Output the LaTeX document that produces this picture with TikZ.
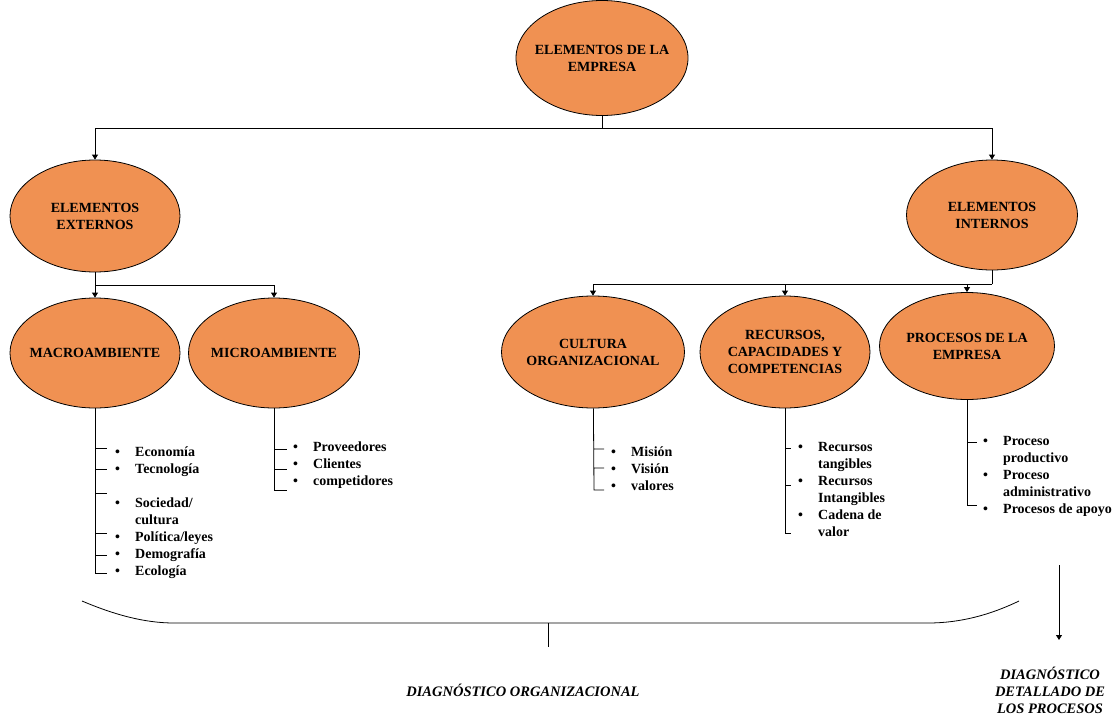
\documentclass[tikz,border=0pt]{standalone}
\usepackage{fontspec}
\setmainfont{Liberation Serif}
\usetikzlibrary{shapes.geometric, arrows.meta}
\definecolor{naranja}{RGB}{240,145,82}

\newcommand{\lista}[1]{\begin{tabular}[t]{@{}p{20pt}@{}l@{}}#1\end{tabular}}

\begin{document}
\begin{tikzpicture}[x=1pt, y=-1pt,
    elem/.style={ellipse, draw, fill=naranja, line width=0.8pt, inner xsep=-10pt, inner ysep=0pt,
      align=center, font=\bfseries\fontsize{14}{17}\selectfont},
    flecha/.style={-{Triangle[width=6pt,length=5pt]}, line width=0.8pt},
    linea/.style={line width=0.8pt},
    items/.style={anchor=base west, inner sep=0pt, font=\bfseries\fontsize{14}{17}\selectfont},
    diag/.style={align=center, inner sep=0pt, font=\bfseries\itshape\fontsize{14.5}{17}\selectfont}]
  \useasboundingbox (0,0) rectangle (1117,715);

  \path
  (602,58) node[elem, minimum width=172pt, minimum height=115pt](emp){ELEMENTOS DE LA\\EMPRESA}
  (95,216) node[elem, minimum width=170pt, minimum height=112pt](ext){ELEMENTOS\\EXTERNOS}
  (992,215) node[elem, minimum width=171pt, minimum height=110pt](int){ELEMENTOS\\INTERNOS};

  \path
  (95,353) node[elem, minimum width=170pt, minimum height=110pt](macro){MACROAMBIENTE}
  (274,353) node[elem, minimum width=171pt, minimum height=110pt](micro){MICROAMBIENTE}
  (593,352) node[elem, minimum width=183pt, minimum height=112pt](cult){CULTURA\\ORGANIZACIONAL}
  (785,352) node[elem, minimum width=170pt, minimum height=112pt](recur){RECURSOS,\\CAPACIDADES Y\\COMPETENCIAS}
  (967,346) node[elem, minimum width=175pt, minimum height=107pt](proc){PROCESOS DE LA\\EMPRESA};

  % ramas
  \coordinate (busa) at (602,128);
  \coordinate (busb) at (95,285);
  \coordinate (busc) at (992,284);
  \draw[linea] (emp) -- (busa);
  \draw[flecha] (busa) -| (ext);
  \draw[flecha] (busa) -| (int);
  \draw[linea] (ext) -- (busb);
  \draw[flecha] (busb) -- (macro);
  \draw[flecha] (busb) -| (micro);
  \draw[linea] (int) -- (busc);
  \draw[flecha] (busc) -| (cult);
  \draw[flecha] (busc) -| (recur);
  \draw[flecha] (busc) -| (proc);

  % listas
  \path
  (115,456) node[items](lmacro){\lista{\textbullet & Economía\\ \textbullet & Tecnología\\ & \\
      \textbullet & Sociedad/\\ & cultura\\ \textbullet & Política/leyes\\
      \textbullet & Demografía\\ \textbullet & Ecología}}
  (293,451) node[items](lmicro){\lista{\textbullet & Proveedores\\ \textbullet & Clientes\\
      \textbullet & competidores}}
  (611,456) node[items](lcult){\lista{\textbullet & Misión\\ \textbullet & Visión\\
      \textbullet & valores}}
  (798,451) node[items](lrecur){\lista{\textbullet & Recursos\\ & tangibles\\
      \textbullet & Recursos\\ & Intangibles\\ \textbullet & Cadena de\\ & valor}}
  (983,445) node[items](lproc){\lista{\textbullet & Proceso\\ & productivo\\
      \textbullet & Proceso\\ & administrativo\\ \textbullet & Procesos de apoyo}};

  \draw[linea] (macro) -- (95,573) -- (107,573)
  (95,448) -- (107,448) (95,469) -- (107,469) (95,493) -- (107,493)
  (95,533) -- (107,533) (95,555) -- (107,555);
  \draw[linea] (micro) -- (274,490) -- (287,490)
  (274,449) -- (287,449) (274,469) -- (287,469);
  \draw[linea] (cult) -- (594,490) -- (604,490)
  (594,449) -- (604,449) (594,468) -- (604,468);
  \draw[linea] (recur) -- (785,533) -- (791,533)
  (785,448) -- (791,448) (785,485) -- (791,485);
  \draw[linea] (proc) -- (967,505) -- (977,505)
  (967,442) -- (977,442);

  % diagnostico
  \coordinate (llave) at (548,623);
  \coordinate (flechaini) at (1059,565);
  \coordinate (flechafin) at (1059,640);
  \draw[linea] (82,601) .. controls (115,615) and (145,623) .. (174,623) -- (928,623)
  .. controls (960,623) and (990,615) .. (1019,601);
  \draw[linea] (llave) -- ++(0,24);
  \draw[flecha] (flechaini) -- (flechafin);
  \path
  (523,690) node[diag](dorg){DIAGNÓSTICO ORGANIZACIONAL}
  (1050,690) node[diag](dproc){DIAGNÓSTICO\\DETALLADO DE\\LOS PROCESOS};
\end{tikzpicture}
\end{document}
